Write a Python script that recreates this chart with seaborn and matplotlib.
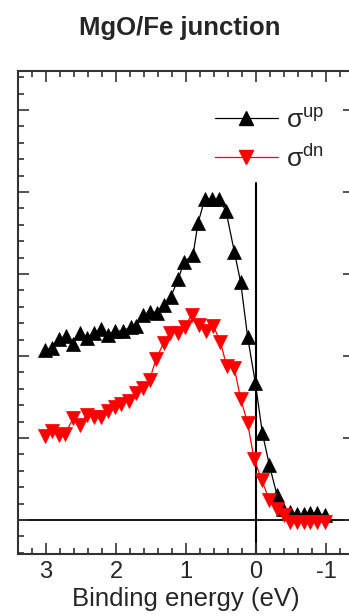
import numpy as np
import pandas as pd
import seaborn as sns
import matplotlib.pyplot as plt
from matplotlib.lines import Line2D
from matplotlib.ticker import MultipleLocator

sns.set_style('ticks')
plt.rcParams['font.family'] = ['Liberation Sans', 'DejaVu Sans']

# ----------------------------------------------------------------------
# data (binding energy in eV, intensity in arb. units)
# ----------------------------------------------------------------------
energy_up = [3.01, 2.92, 2.81, 2.72, 2.62, 2.52, 2.42, 2.32, 2.22, 2.12, 2.01,
             1.90, 1.79, 1.71, 1.61, 1.51, 1.42, 1.31, 1.22, 1.11, 1.03,
             0.90, 0.83, 0.73, 0.63, 0.53, 0.43, 0.31, 0.22, 0.12, 0.01,
             -0.09, -0.19, -0.30, -0.39, -0.49, -0.58, -0.68, -0.77, -0.87, -0.99]
sigma_up = [2.07, 2.10, 2.21, 2.24, 2.15, 2.28, 2.22, 2.28, 2.33, 2.26, 2.30,
            2.31, 2.35, 2.37, 2.50, 2.54, 2.53, 2.62, 2.72, 2.94, 3.15,
            3.23, 3.62, 3.92, 3.91, 3.91, 3.77, 3.27, 2.90, 2.23, 1.67,
            1.06, 0.67, 0.30, 0.14, 0.10, 0.07, 0.07, 0.08, 0.08, 0.06]

energy_dn = [3.01, 2.92, 2.82, 2.73, 2.61, 2.52, 2.42, 2.31, 2.21, 2.12, 2.02,
             1.93, 1.82, 1.72, 1.61, 1.52, 1.43, 1.32, 1.23, 1.12, 1.02,
             0.92, 0.81, 0.72, 0.61, 0.51, 0.42, 0.31, 0.22, 0.12, 0.03,
             -0.08, -0.19, -0.30, -0.40, -0.49, -0.58, -0.68, -0.77, -0.87, -0.99]
sigma_dn = [1.02, 1.08, 1.04, 1.05, 1.24, 1.16, 1.28, 1.26, 1.26, 1.33, 1.38,
            1.41, 1.45, 1.55, 1.61, 1.71, 1.96, 2.16, 2.28, 2.28, 2.36,
            2.50, 2.38, 2.30, 2.37, 2.17, 1.88, 1.85, 1.48, 1.18, 0.75,
            0.49, 0.24, 0.13, 0.06, -0.02, -0.03, -0.02, -0.02, -0.03, -0.02]

xticks = [3, 2, 1, 0, -1]
xticklabels = ['3', '2', '1', '0', '-1']

up = pd.DataFrame({'E': energy_up, 'I': sigma_up})
dn = pd.DataFrame({'E': energy_dn, 'I': sigma_dn})

# ----------------------------------------------------------------------
# figure
# ----------------------------------------------------------------------
fig = plt.figure(figsize=(3.49, 6.16), dpi=100)
ax = fig.add_axes([0.0516, 0.1006, 0.963, 0.7841])

sns.lineplot(data=up, x='E', y='I', ax=ax, color='black', lw=0.9,
             marker='^', markersize=10, markeredgecolor='black', markeredgewidth=0.5)
sns.lineplot(data=dn, x='E', y='I', ax=ax, color='red', lw=0.9,
             marker='v', markersize=10, markeredgecolor='red', markeredgewidth=0.5)

ax.axhline(0, color='black', lw=1.3, zorder=0)
ax.axvline(0, ymax=0.768, color='black', lw=1.5, zorder=0)

ax.set_xlim(3.4, -1.4)
ax.set_ylim(-0.415, 5.476)

ax.set_xticks(xticks)
ax.set_xticklabels(xticklabels)
ax.xaxis.set_minor_locator(MultipleLocator(0.2))
ax.yaxis.set_major_locator(MultipleLocator(1))
ax.yaxis.set_minor_locator(MultipleLocator(0.2))

ax.tick_params(axis='x', which='both', direction='in', top=True, bottom=True,
               labelsize=17, pad=5)
ax.tick_params(axis='y', which='both', direction='in', left=True, right=False,
               labelleft=False)
ax.tick_params(axis='y', which='major', right=True)
ax.tick_params(which='major', length=8, width=1.2, color='#333333')
ax.tick_params(which='minor', length=4.5, width=1.2, color='#333333')
for s in ax.spines.values():
    s.set_linewidth(1.5)
    s.set_color('#333333')

ax.set_xlabel('Binding energy (eV)', fontsize=18.5, labelpad=3)
ax.set_ylabel('')
fig.text(0.515, 0.955, 'MgO/Fe junction', ha='center', va='center',
         fontsize=18.5, fontweight='bold')

handles = [
    Line2D([], [], color='black', lw=0.9, marker='^', markersize=10),
    Line2D([], [], color='red', lw=0.9, marker='v', markersize=10),
]
labels = [r'$\mathregular{σ^{up}}$', r'$\mathregular{σ^{dn}}$']
ax.legend(handles, labels, loc='upper left', bbox_to_anchor=(0.585, 0.922),
          frameon=False, fontsize=19, handlelength=2.4, handletextpad=0.3,
          borderpad=0, borderaxespad=0, labelspacing=0.45)

fig.savefig('out.png', dpi=100)
